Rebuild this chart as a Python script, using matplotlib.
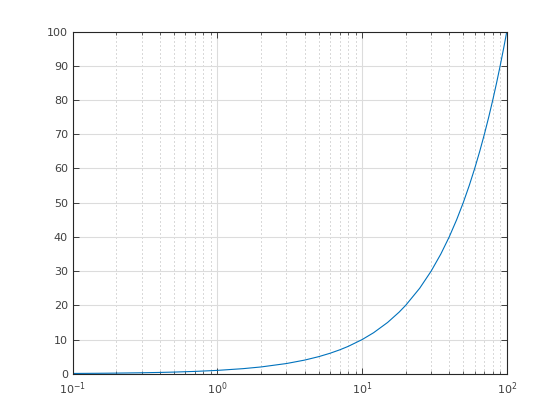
import numpy as np
import matplotlib
matplotlib.use('Agg')
import matplotlib.pyplot as plt
import matplotlib.ticker as ticker

# values
x_vals = [0.1, 0.15, 0.2, 0.3, 0.4, 0.5, 0.7, 1, 1.5, 2, 3, 4, 5, 6, 7, 8, 10,
          12, 15, 18, 20, 25, 30, 35, 40, 45, 50, 55, 60, 65, 70, 75, 80, 85,
          90, 95, 100]
y_vals = [0.1, 0.15, 0.2, 0.3, 0.4, 0.5, 0.7, 1, 1.5, 2, 3, 4, 5, 6, 7, 8, 10,
          12, 15, 18, 20, 25, 30, 35, 40, 45, 50, 55, 60, 65, 70, 75, 80, 85,
          90, 95, 100]
y_ticks = [0, 10, 20, 30, 40, 50, 60, 70, 80, 90, 100]

plt.rcParams.update({
    'font.family': 'DejaVu Sans',
    'font.size': 8,
})

fig = plt.figure(figsize=(5.6, 4.2), dpi=100)
ax = fig.add_axes([0.13, 0.11, 0.775, 0.815])
ax.semilogx(x_vals, y_vals, color='#0072BD', linewidth=0.8)

ax.set_xlim(0.1, 100)
ax.set_ylim(0, 100)
ax.set_yticks(y_ticks)
ax.xaxis.set_major_locator(ticker.LogLocator(base=10, numticks=10))
ax.xaxis.set_minor_locator(ticker.LogLocator(base=10, subs=np.arange(2, 10), numticks=20))
ax.xaxis.set_minor_formatter(ticker.NullFormatter())

ax.grid(True, which='major', color='#dcdcdc', linewidth=0.8, linestyle='-')
ax.grid(True, which='minor', axis='x', color='#b4b4b4', linewidth=0.72, linestyle=(0, (1, 3)))
ax.set_axisbelow(True)

ax.tick_params(which='both', direction='in', top=True, right=True,
               colors='#262626', labelcolor='#404040', labelsize=8)
ax.tick_params(which='major', length=4, width=0.6)
ax.tick_params(which='minor', length=2.5, width=0.5)
ax.tick_params(axis='x', which='major', pad=5)
for s in ax.spines.values():
    s.set_color('#262626')
    s.set_linewidth(0.8)

fig.savefig('out.png', dpi=100)
